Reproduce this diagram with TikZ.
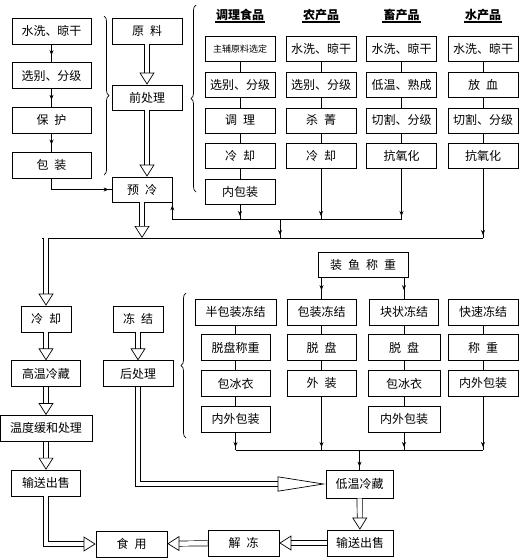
\documentclass[tikz,border=0pt]{standalone}
\usepackage{fontspec}
\setmainfont{Noto Sans CJK SC}
\usetikzlibrary{arrows.meta, positioning, decorations.pathreplacing, decorations.markings}

\begin{document}
\begin{tikzpicture}[
  x=1pt, y=-1pt,
  font=\fontsize{12}{14}\selectfont,
  node distance = 10pt,
  line width=0.7pt,
  % Define block styles
  box/.style={
    draw,
    minimum width=70pt,
    minimum height=25pt,
    inner sep=1pt,
    align=center
  },
  header/.style={
    inner sep=1pt,
    font=\fontsize{12}{14}\selectfont\bfseries
  },
  % Arrows style
  connector/.style={
    decoration={markings, mark=at position 0.6 with {\arrow{Stealth[length=5pt, width=4pt]}}},
    postaction=decorate
  },
  feeder/.style={
    decoration={markings, mark=at position -3pt with {\arrow{Stealth[length=5pt, width=4pt]}}},
    postaction=decorate
  },
  hollow/.style={
    double, double distance=4.5pt,
    -{Triangle[open, length=12pt, width=15pt]}
  },
  bracket/.style={
    decorate,
    decoration={brace, amplitude=5pt}
  }
]
\useasboundingbox (0,0) rectangle (520,558);

% -----------------------------------------------
% PRE-TREATMENT (TOP LEFT)
% -----------------------------------------------
\node[box, minimum width=79pt, minimum height=26pt] (washL) at (51.5,31) {水洗、晾干};
\node[box, minimum width=79pt, minimum height=26pt, below=18pt of washL] (sortL) {选别、分级};
\node[box, minimum width=79pt, minimum height=26pt, below=18pt of sortL] (protectL) {保\enspace 护};
\node[box, minimum width=79pt, minimum height=26pt, below=18pt of protectL] (packL) {包\enspace 装};

\node[box, minimum height=26pt] (raw) at (147,31) {原\enspace 料};
\node[box] (pre) at (147,97.5) {前处理};
\node[box, minimum width=60pt] (precool) at (142,189.5) {预\enspace 冷};

% -----------------------------------------------
% PRODUCT COLUMNS (TOP RIGHT)
% -----------------------------------------------
\node[header] (hFood) at (240,15) {调理食品};
\node[header] (hFarm) at (321,15) {农产品};
\node[header] (hLive) at (401.5,15) {畜产品};
\node[header] (hFish) at (483,15) {水产品};

\node[box] (food1) at (240,49) {\fontsize{9}{11}\selectfont 主辅原料选定};
\node[box, below=of food1] (food2) {选别、分级};
\node[box, below=of food2] (food3) {调\enspace 理};
\node[box, below=of food3] (food4) {冷\enspace 却};
\node[box, below=of food4] (food5) {内包装};

\node[box] (farm1) at (321,49) {水洗、晾干};
\node[box, below=of farm1] (farm2) {选别、分级};
\node[box, below=of farm2] (farm3) {杀\enspace 菁};
\node[box, below=of farm3] (farm4) {冷\enspace 却};

\node[box] (live1) at (401.5,49) {水洗、晾干};
\node[box, below=of live1] (live2) {低温、熟成};
\node[box, below=of live2] (live3) {切割、分级};
\node[box, below=of live3] (live4) {抗氧化};

\node[box] (fish1) at (483,49) {水洗、晾干};
\node[box, below=of fish1] (fish2) {放\enspace 血};
\node[box, below=of fish2] (fish3) {切割、分级};
\node[box, below=of fish3] (fish4) {抗氧化};

\coordinate (upJoin) at (280,219);
\coordinate (downJoin) at (280,238);

% -----------------------------------------------
% STORAGE FLOW (BOTTOM LEFT)
% -----------------------------------------------
\node[box, minimum width=50pt, minimum height=26pt] (cool) at (46,319) {冷\enspace 却};
\node[box, minimum width=69pt, minimum height=26pt, below=28pt of cool] (highStore) {高温冷藏};
\node[box, minimum width=92pt, minimum height=26pt, below=28pt of highStore] (ease) {温度缓和处理};
\node[box, minimum width=69pt, minimum height=26pt, below=28pt of ease] (sellL) {输送出售};

\node[box, minimum width=50pt, minimum height=26pt] (freeze) at (138,319) {冻\enspace 结};
\node[box, minimum height=26pt, below=28pt of freeze] (post) {后处理};

% -----------------------------------------------
% FREEZING COLUMNS (BOTTOM RIGHT)
% -----------------------------------------------
\node[box, minimum width=90pt] (weigh) at (363,264.5) {装\enspace 鱼\enspace 称\enspace 重};

\node[box, minimum width=81pt, minimum height=26pt] (semi1) at (235.5,312) {半包装冻结};
\node[box, minimum width=69pt, minimum height=26pt, below=9pt of semi1] (semi2) {脱盘称重};
\node[box, minimum width=69pt, minimum height=26pt, below=9pt of semi2] (semi3) {包冰衣};
\node[box, minimum width=69pt, minimum height=26pt, below=9pt of semi3] (semi4) {内外包装};

\node[box, minimum width=69pt, minimum height=26pt] (pack1) at (321.5,312) {包装冻结};
\node[box, minimum width=69pt, minimum height=26pt, below=9pt of pack1] (pack2) {脱\enspace 盘};
\node[box, minimum width=69pt, minimum height=26pt, below=9pt of pack2] (pack3) {外\enspace 装};

\node[box, minimum width=69pt, minimum height=26pt] (block1) at (404,312) {块状冻结};
\node[box, minimum width=72pt, minimum height=26pt, below=9pt of block1] (block2) {脱\enspace 盘};
\node[box, minimum width=72pt, minimum height=26pt, below=9pt of block2] (block3) {包冰衣};
\node[box, minimum width=72pt, minimum height=26pt, below=9pt of block3] (block4) {内外包装};

\node[box, minimum width=70pt, minimum height=26pt] (quick1) at (483,312) {快速冻结};
\node[box, minimum width=70pt, minimum height=26pt, below=9pt of quick1] (quick2) {称\enspace 重};
\node[box, minimum width=70pt, minimum height=26pt, below=9pt of quick2] (quick3) {内外包装};

\coordinate (lowJoin) at (361,450);

\node[box, minimum width=67pt, minimum height=28pt] (lowStore) at (359.5,484) {低温冷藏};
\node[box, minimum width=66pt, minimum height=26pt] (sellR) at (360,543) {输送出售};
\node[box, minimum width=71pt, minimum height=26pt] (thaw) at (243.5,543) {解\enspace 冻};
\node[box, minimum width=71pt, minimum height=26pt] (eat) at (131.5,544) {食\enspace 用};

% -----------------------------------------------
% BRACES AND HEADER RULES
% -----------------------------------------------
\draw[bracket] (104,16) -- (104,175);
\draw[bracket] (196,192) -- (196,5);
\draw[bracket] (186,438) -- (186,293);

\foreach \h in {hFood, hFarm, hLive, hFish}
  \draw[line width=1.6pt] (\h.south west) -- (\h.south east);

% -----------------------------------------------
% ARROWS AND CONNECTIONS
% -----------------------------------------------

% Pre-treatment steps
\draw[connector] (washL) -- (sortL);
\draw[connector] (sortL) -- (protectL);
\draw[connector] (protectL) -- (packL);
\draw[feeder] (packL.south) |- (precool.west);

\draw[hollow] (raw) -- (pre);
\draw[hollow] (pre.south) -- (pre.south |- precool.north);
\draw[hollow] (precool.south) -- (precool.south |- downJoin);

% Column steps
\foreach \c in {food, farm, live, fish}
  \foreach \a/\b in {1/2, 2/3, 3/4}
    \draw (\c\a) -- (\c\b);
\draw (food4) -- (food5);

\draw (precool.south east |- upJoin) -- (live4.south |- upJoin);
\draw[feeder] (precool.south east |- upJoin) -- (precool.south east);
\draw[feeder] (food5.south) -- (food5.south |- upJoin);
\draw[feeder] (farm4.south) -- (farm4.south |- upJoin);
\draw[feeder] (live4.south) -- (live4.south |- upJoin);
\draw[feeder] (upJoin) -- (downJoin);
\draw[feeder] (fish4.south) -- (fish4.south |- downJoin);
\draw ([xshift=-3.6pt]cool.north |- downJoin) -- (fish4.south |- downJoin);

% Storage flow
\draw[hollow] (cool.north |- downJoin) -- (cool.north);
\draw[hollow] (cool) -- (highStore);
\draw[hollow] (highStore) -- (ease);
\draw[hollow] (ease) -- (sellL);
\draw[hollow] (sellL.south) |- (eat.west);

\draw[hollow] (freeze) -- (post);
\draw[hollow, -{Triangle[open, length=48pt, width=15pt]}] (post.south) |- (lowStore.west);

% Freezing columns
\draw[connector] (weigh.south -| pack1.north) -- (pack1.north);
\draw[connector] (weigh.south -| block1.north) -- (block1.north);

\foreach \c in {semi, block}
  \foreach \a/\b in {1/2, 2/3, 3/4}
    \draw (\c\a) -- (\c\b);
\foreach \c in {pack, quick}
  \foreach \a/\b in {1/2, 2/3}
    \draw (\c\a) -- (\c\b);

\draw (semi4.south |- lowJoin) -- (quick3.south |- lowJoin);
\draw[feeder] (semi4.south) -- (semi4.south |- lowJoin);
\draw[feeder] (pack3.south) -- (pack3.south |- lowJoin);
\draw[feeder] (block4.south) -- (block4.south |- lowJoin);
\draw[feeder] (quick3.south) -- (quick3.south |- lowJoin);
\draw[feeder] (lowStore.north |- lowJoin) -- (lowStore.north);

% Distribution
\draw[hollow] (lowStore) -- (sellR);
\draw[hollow] (sellR) -- (thaw);
\draw[hollow] (thaw) -- (eat);

\end{tikzpicture}
\end{document}
